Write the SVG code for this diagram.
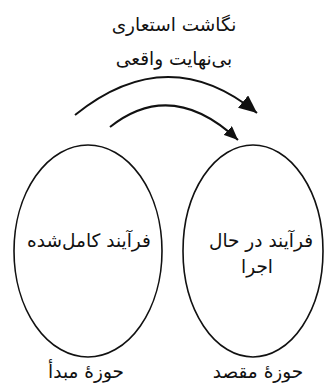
<svg xmlns="http://www.w3.org/2000/svg" width="326" height="390" viewBox="0 0 326 390">
<style>
.t{font-family:"DejaVu Sans","Noto Sans",sans-serif;font-size:18.5px;fill:#111;text-anchor:middle}
.e{fill:none;stroke:#111;stroke-width:1.6}
.c{fill:none;stroke:#111;stroke-width:2}
</style>
<defs>
<marker id="big" markerUnits="userSpaceOnUse" markerWidth="20" markerHeight="16" refX="18" refY="8" orient="auto">
<path d="M0,0 L18,8 L0,16 Z" fill="#111"/>
</marker>
<marker id="small" markerUnits="userSpaceOnUse" markerWidth="16" markerHeight="12" refX="14" refY="6" orient="auto">
<path d="M0,0 L14,6 L0,12 Z" fill="#111"/>
</marker>
</defs>
<rect width="326" height="390" fill="#fff"/>
<g id="title">
<text class="t" x="174" y="31">نگاشت استعاری</text>
<text class="t" x="174" y="65">بی‌نهایت واقعی</text>
</g>
<g id="connectors">
<path class="c" d="M75,115 Q168,40 257,113" marker-end="url(#big)"/>
<path class="c" d="M110,127 Q172,78 238,140" marker-end="url(#small)"/>
</g>
<g id="source">
<ellipse class="e" cx="88" cy="251" rx="74" ry="106"/>
<text class="t" x="89" y="247">فرآیند کامل‌شده</text>
<text class="t" x="86" y="378">حوزهٔ مبدأ</text>
</g>
<g id="target">
<ellipse class="e" cx="253" cy="251" rx="70" ry="106"/>
<text class="t" x="261" y="247">فرآیند در حال</text>
<text class="t" x="257" y="273">اجرا</text>
<text class="t" x="258" y="378">حوزهٔ مقصد</text>
</g>
</svg>
